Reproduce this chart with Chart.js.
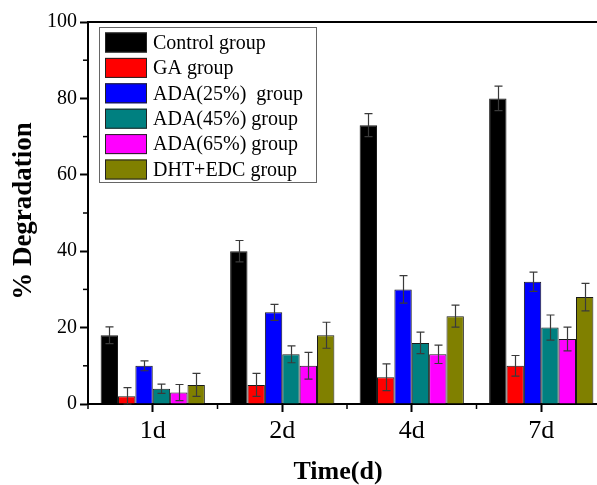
<!DOCTYPE html>
<html>
<head>
<meta charset="utf-8">
<script src="https://cdn.jsdelivr.net/npm/chart.js@4"></script>
<style>
html,body{margin:0;padding:0;background:#fff;overflow:hidden;width:597px;height:485px;}
canvas{display:block;}
</style>
</head>
<body>
<canvas id="c" width="612" height="485"></canvas>
<script>
const categories = ['1d', '2d', '4d', '7d'];
const seriesNames = ['Control group', 'GA group', 'ADA(25%)  group', 'ADA(45%) group', 'ADA(65%) group', 'DHT+EDC group'];
const seriesColors = ['#000000', '#ff0000', '#0000ff', '#008080', '#ff00ff', '#808000'];
const controlValues = [18, 40, 73, 80];
const gaValues = [2, 5, 7, 10];
const ada25Values = [10, 24, 30, 32];
const ada45Values = [4, 13, 16, 20];
const ada65Values = [3, 10, 13, 17];
const dhtValues = [5, 18, 23, 28];
const controlErr = [2.2, 2.8, 3.0, 3.2];
const gaErr = [2.3, 3.0, 3.5, 2.7];
const ada25Err = [1.3, 2.1, 3.6, 2.5];
const ada45Err = [1.2, 2.2, 2.8, 3.3];
const ada65Err = [2.1, 3.5, 2.4, 3.1];
const dhtErr = [3.0, 3.4, 2.9, 3.6];
const yTicks = [0, 20, 40, 60, 80, 100];
const yMinorTicks = [10, 30, 50, 70, 90];

const allValues = [controlValues, gaValues, ada25Values, ada45Values, ada65Values, dhtValues];
const allErrs = [controlErr, gaErr, ada25Err, ada45Err, ada65Err, dhtErr];

const SERIF = '"Liberation Serif", "Times New Roman", serif';

const datasets = seriesNames.map((name, i) => ({
  label: name,
  data: allValues[i],
  errors: allErrs[i],
  backgroundColor: seriesColors[i],
  borderColor: '#1a1a1a',
  borderWidth: 1,
  borderSkipped: 'bottom',
  categoryPercentage: 0.805,
  barPercentage: 1.0
}));

const decorPlugin = {
  id: 'decor',
  afterDatasetsDraw(chart) {
    const ctx = chart.ctx;
    const y = chart.scales.y;
    // error bars
    ctx.save();
    ctx.strokeStyle = '#3a3a3a';
    ctx.lineWidth = 1.2;
    chart.data.datasets.forEach((ds, di) => {
      const meta = chart.getDatasetMeta(di);
      meta.data.forEach((el, i) => {
        const v = ds.data[i], e = ds.errors[i];
        const yt = y.getPixelForValue(v + e), yb = y.getPixelForValue(Math.max(0, v - e));
        const x = Math.round(el.x) + 0.5;
        ctx.beginPath();
        ctx.moveTo(x, yt); ctx.lineTo(x, yb);
        ctx.moveTo(x - 4, yt); ctx.lineTo(x + 4, yt);
        ctx.moveTo(x - 4, yb); ctx.lineTo(x + 4, yb);
        ctx.stroke();
      });
    });
    ctx.restore();
  },
  afterDraw(chart) {
    const ctx = chart.ctx;
    const area = chart.chartArea;
    const x = chart.scales.x, y = chart.scales.y;
    ctx.save();
    ctx.strokeStyle = '#000';
    ctx.lineWidth = 2;
    // top border
    ctx.beginPath();
    ctx.moveTo(area.left, area.top); ctx.lineTo(area.right, area.top);
    ctx.stroke();
    // y minor ticks
    ctx.lineWidth = 1.5;
    yMinorTicks.forEach(v => {
      const py = y.getPixelForValue(v);
      ctx.beginPath();
      ctx.moveTo(area.left - 5, py); ctx.lineTo(area.left, py);
      ctx.stroke();
    });
    // x minor ticks at category boundaries
    const n = categories.length;
    for (let i = 0; i <= n; i++) {
      const px = x.getPixelForValue(i - 0.5);
      ctx.beginPath();
      ctx.moveTo(px, area.bottom); ctx.lineTo(px, area.bottom + 5);
      ctx.stroke();
    }
    // legend
    const lx = 99, ly = 27, lw = 217, lh = 155;
    ctx.fillStyle = '#fff';
    ctx.strokeStyle = '#666';
    ctx.lineWidth = 1;
    ctx.strokeRect(lx + 0.5, ly + 0.5, lw, lh);
    ctx.font = '20px ' + SERIF;
    ctx.textBaseline = 'middle';
    ctx.textAlign = 'left';
    chart.data.datasets.forEach((ds, i) => {
      const cy = 42.5 + i * 25.4;
      ctx.fillStyle = ds.backgroundColor;
      ctx.fillRect(105, cy - 10, 42, 20);
      ctx.strokeStyle = '#222';
      ctx.strokeRect(105.5, cy - 10 + 0.5, 41, 19);
      ctx.fillStyle = '#000';
      ctx.fillText(ds.label, 153, cy + 1);
    });
    // axis titles
    ctx.font = 'bold 26px ' + SERIF;
    ctx.textAlign = 'center';
    ctx.textBaseline = 'middle';
    ctx.fillText('Time(d)', 338, 472);
    ctx.save();
    ctx.translate(24, 211);
    ctx.rotate(-Math.PI / 2);
    ctx.font = 'bold 27px ' + SERIF;
    ctx.fillText('% Degradation', 0, 0);
    ctx.restore();
    ctx.restore();
  }
};

new Chart(document.getElementById('c'), {
  type: 'bar',
  data: { labels: categories, datasets },
  options: {
    responsive: false,
    animation: false,
    devicePixelRatio: 1,
    layout: { padding: { top: 22, right: 6, left: 0, bottom: 0 } },
    plugins: { legend: { display: false }, tooltip: { enabled: false } },
    scales: {
      x: {
        afterFit(s) { s.height = 81; },
        grid: { offset: false, drawOnChartArea: false, tickLength: 8, tickWidth: 2, color: '#000' },
        border: { display: true, color: '#000', width: 2 },
        ticks: { font: { family: SERIF, size: 26 }, color: '#000', padding: 4 }
      },
      y: {
        min: 0, max: 100,
        afterFit(s) { s.width = 88; },
        afterBuildTicks(s) { s.ticks = yTicks.map(v => ({ value: v })); },
        grid: { drawOnChartArea: false, tickLength: 8, tickWidth: 2, color: '#000' },
        border: { display: true, color: '#000', width: 2 },
        ticks: { font: { family: SERIF, size: 20 }, color: '#000', padding: 3 }
      }
    }
  },
  plugins: [decorPlugin]
});
</script>
</body>
</html>
